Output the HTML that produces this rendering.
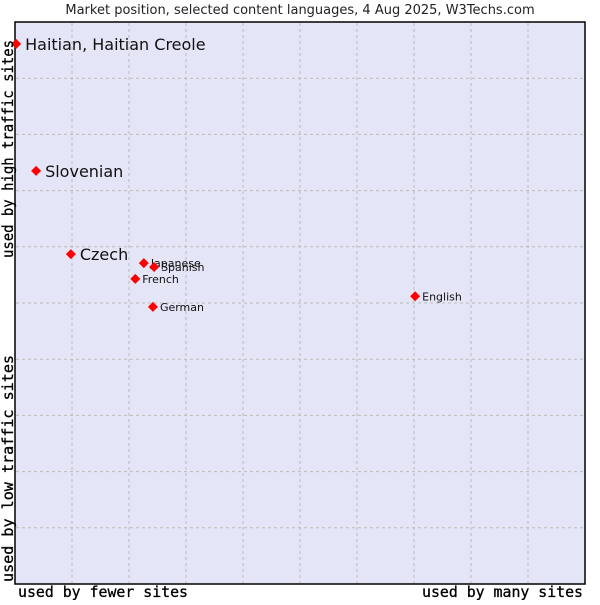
<!DOCTYPE html>
<html><head><meta charset="utf-8"><style>
body{margin:0;background:#fff;width:600px;height:600px;overflow:hidden}
svg text{font-family:"DejaVu Sans","Liberation Sans",sans-serif}
</style></head><body>
<svg width="600" height="600">
<text x="300" y="14" text-anchor="middle" font-size="13" fill="#222">Market position, selected content languages, 4 Aug 2025, W3Techs.com</text>
<rect x="15" y="22" width="570" height="562" fill="#e4e6f8" stroke="#000" stroke-width="1.5"/>
<g id="grid"></g>
<g id="pts"></g>
<text x="18" y="597" font-size="15" textLength="170" lengthAdjust="spacingAndGlyphs" font-weight="bold" style="font-family:'DejaVu Sans Mono',monospace;font-weight:normal;stroke:#000;stroke-width:0.3">used by fewer sites</text>
<text x="422" y="597" font-size="15" textLength="161" lengthAdjust="spacingAndGlyphs" style="font-family:'DejaVu Sans Mono',monospace;stroke:#000;stroke-width:0.3">used by many sites</text>
<text transform="translate(13,258) rotate(-90)" font-size="15" textLength="218" lengthAdjust="spacingAndGlyphs" style="font-family:'DejaVu Sans Mono',monospace;stroke:#000;stroke-width:0.3">used by high traffic sites</text>
<text transform="translate(13,582) rotate(-90)" font-size="15" textLength="227" lengthAdjust="spacingAndGlyphs" style="font-family:'DejaVu Sans Mono',monospace;stroke:#000;stroke-width:0.3">used by low traffic sites</text>
</svg>
<script>
const names=["Haitian, Haitian Creole","Slovenian","Czech","Japanese","Spanish","French","German","English"];
const xs=[0.02,0.37,0.98,2.26,2.44,2.11,2.42,7.02];
const ys=[9.61,7.35,5.87,5.71,5.64,5.43,4.93,5.12];
const big=[1,1,1,0,0,0,0,0];
const X=v=>15+v*57, Y=v=>584-v*56.2;
const ns="http://www.w3.org/2000/svg";
const g=document.getElementById('grid');
for(let i=1;i<10;i++){
 let l=document.createElementNS(ns,'line');
 
 
 l.setAttribute('x1',X(i));l.setAttribute('x2',X(i));l.setAttribute('y1',23);l.setAttribute('y2',583);
 l.setAttribute('stroke','#bbb');l.setAttribute('stroke-dasharray','3,3');g.appendChild(l);
 let h=document.createElementNS(ns,'line');
 
 
 h.setAttribute('y1',Y(i));h.setAttribute('y2',Y(i));h.setAttribute('x1',16);h.setAttribute('x2',584);
 h.setAttribute('stroke','#bbb');h.setAttribute('stroke-dasharray','3,3');g.appendChild(h);
}
const p=document.getElementById('pts');
names.forEach((n,i)=>{
 const x=X(xs[i]),y=Y(ys[i]);
 let d=document.createElementNS(ns,'polygon');
 
 
 d.setAttribute('points',`${x},${y-5} ${x+5},${y} ${x},${y+5} ${x-5},${y}`);
 d.setAttribute('fill','#f00');p.appendChild(d);
 let t=document.createElementNS(ns,'text');
 
 
 t.setAttribute('x',x+(big[i]?9:7));t.setAttribute('y',y+(big[i]?6:4));
 t.setAttribute('font-size',big[i]?16:11);t.setAttribute('fill','#111');
 t.textContent=n;p.appendChild(t);
});
</script>
</body></html>
